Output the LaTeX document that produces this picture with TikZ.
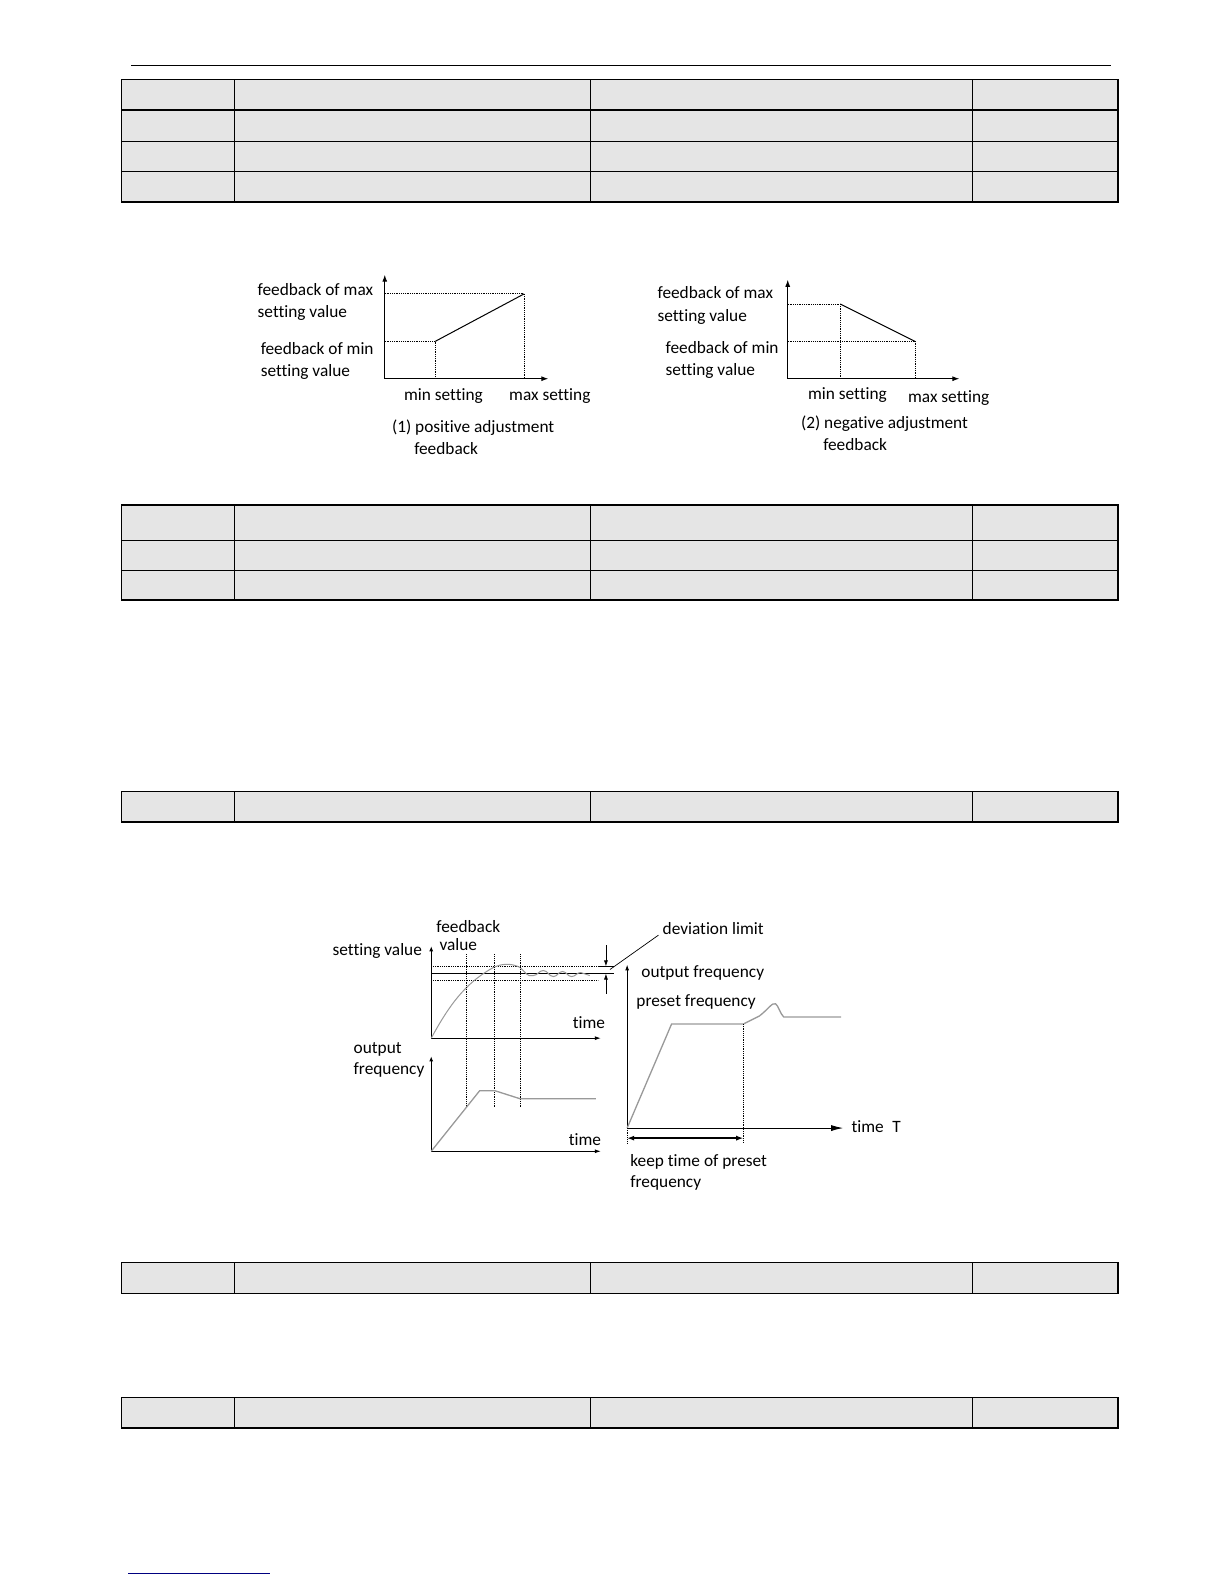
\documentclass[tikz,border=0pt]{standalone}
\usepackage{fontspec}
\setmainfont{Carlito}[Ligatures={NoCommon}]
\usetikzlibrary{arrows.meta}
\begin{document}
\begin{tikzpicture}[x=1bp,y=-1bp,
  lbl/.style={font=\fontsize{17.2}{19}\selectfont,inner sep=0pt,anchor=base west},
  cellrow/.style={draw=black,line width=1.3pt,fill=gray!20},
  axis/.style={line width=1pt,-{Latex[length=7pt,width=5pt]}},
  dot/.style={densely dotted,line width=0.8pt},
  curve/.style={draw=gray!80,line width=1.3pt},
  plot/.style={line width=1pt}]
\useasboundingbox (0,0) rectangle (1212,1568.5);
\draw[line width=1pt] (130,65) -- (1100,65);
\draw[draw=blue!50!black,line width=1.2pt] (127,1558) -- (267,1558);
% tables
\foreach \ya/\yb in {79/109,109/140,140/170,170/200,500/535,535/565,565/594,784/814,1250/1281,1384/1414}{
  \foreach \xa/\xb in {120/232,232/585,585/963,963/1107}{
    \draw[cellrow] (\xa,\ya) rectangle (\xb,\yb);}}
% graph 1
\coordinate (o1) at (381,375);
\draw[axis] (o1) -- (381,272);
\draw[axis] (o1) -- (543,375);
\coordinate (p1) at (431,338); \coordinate (q1) at (519,291);
\draw[plot] (p1) -- (q1);
\draw[dot] (381,338) -- (p1) -- (431,375);
\draw[dot] (381,291) -- (q1) -- (519,375);
\node[lbl] at (255,293) {feedback of max};
\node[lbl] at (255,314) {setting value};
\node[lbl] at (258,351) {feedback of min};
\node[lbl] at (258,373) {setting value};
\node[lbl] at (400,397) {min setting};
\node[lbl] at (504,397) {max setting};
\node[lbl] at (388,428) {(1) positive adjustment};
\node[lbl] at (410,450) {feedback};
% graph 2
\coordinate (o2) at (780,375);
\draw[axis] (o2) -- (780,277);
\draw[axis] (o2) -- (950,375);
\coordinate (p2) at (832,301); \coordinate (q2) at (906,338);
\draw[plot] (p2) -- (q2);
\draw[dot] (780,301) -- (p2) -- (832,375);
\draw[dot] (780,338) -- (q2) -- (906,375);
\node[lbl] at (651,296) {feedback of max};
\node[lbl] at (651,318) {setting value};
\node[lbl] at (659,350) {feedback of min};
\node[lbl] at (659,372) {setting value};
\node[lbl] at (800,396) {min setting};
\node[lbl] at (899,399) {max setting};
\node[lbl] at (793,424) {(2) negative adjustment};
\node[lbl] at (815,446) {feedback};
% bottom: top plot
\draw[axis,-{Latex[length=5pt,width=4pt]}] (427,1028) -- (427,937);
\draw[axis,-{Latex[length=6pt,width=4pt]}] (427,1028) -- (595,1028);
\draw[dot] (427,957) -- (592,957);
\draw[plot] (427,964) -- (592,964);
\draw[dot] (427,971) -- (592,971);
\draw[curve,line width=1pt] (427,1028) .. controls (445,995) and (460,975) .. (485,960)
  .. controls (495,954) and (505,953) .. (515,958)
  .. controls (520,962) and (522,968) .. (528,966)
  to[out=0,in=180] (538,961) to[out=0,in=180] (548,967) to[out=0,in=180] (557,962)
  to[out=0,in=180] (566,967) to[out=0,in=180] (575,963) to[out=0,in=180] (584,966);
\foreach \x in {462,490,515}{\draw[dot] (\x,945) -- (\x,1097);}
\draw[line width=0.8pt] (592,957) -- (608,957);
\draw[line width=0.8pt] (592,964) -- (608,964);
\draw[line width=0.8pt,-{Latex[length=6pt,width=4pt]}] (600,936) -- (600,957);
\draw[line width=0.8pt,-{Latex[length=6pt,width=4pt]}] (600,984) -- (600,964);
\draw[line width=0.7pt] (604,960) -- (652,926);
\node[lbl] at (656,925) {deviation limit};
\node[lbl] at (432,923) {feedback};
\node[lbl] at (435,941) {value};
\node[lbl,anchor=base east] at (418,946) {setting value};
\node[lbl] at (567,1018) {time};
% bottom plot
\draw[axis,-{Latex[length=5pt,width=4pt]}] (427,1140) -- (427,1046);
\draw[axis,-{Latex[length=6pt,width=4pt]}] (427,1140) -- (595,1140);
\draw[curve] (427,1140) -- (475,1080) -- (490,1080) -- (515,1088) -- (590,1088);
\node[lbl] at (350,1043) {output};
\node[lbl] at (350,1064) {frequency};
\node[lbl] at (563,1134) {time};
% right plot
\draw[axis,-{Latex[length=6pt,width=4pt]}] (621,1117) -- (621,955);
\draw[axis,-{Latex[length=12pt,width=6pt]}] (621,1117) -- (835,1117);
\draw[curve] (621,1117) -- (665,1014) -- (736,1014) -- (752,1006)
  .. controls (760,1000) and (765,992) .. (768,994)
  .. controls (771,996) and (772,1003) .. (776,1007) -- (833,1007);
\draw[dot] (736,1014) -- (736,1132);
\draw[dot] (621,1117) -- (621,1132);
\draw[line width=1.3pt,{Latex[length=7pt,width=5pt]}-{Latex[length=7pt,width=5pt]}] (621,1127) -- (736,1127);
\node[lbl] at (635,968) {output frequency};
\node[lbl] at (630,997) {preset frequency};
\node[lbl] at (843,1121) {time\enspace T};
\node[lbl] at (624,1155) {keep time of preset};
\node[lbl] at (624,1176) {frequency};
\end{tikzpicture}
\end{document}
